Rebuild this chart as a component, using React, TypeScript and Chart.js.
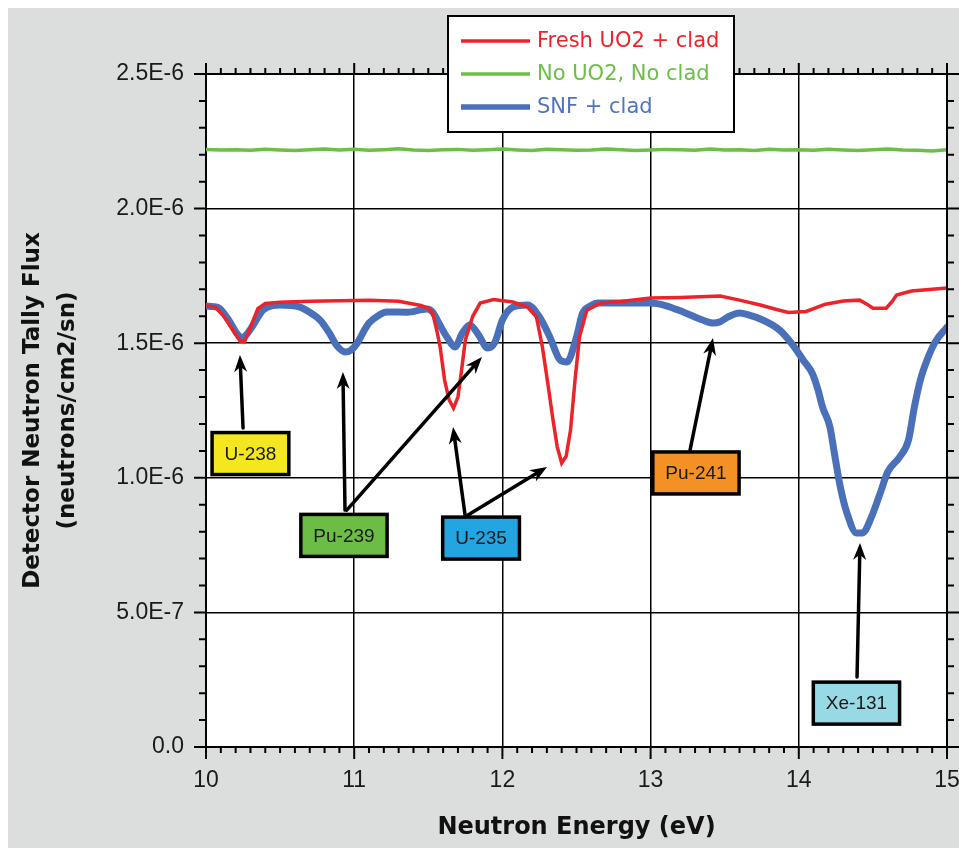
import { useEffect, useRef } from "react";
import { Chart, registerables } from "chart.js";

Chart.register(...registerables);

// Neutron energy (eV) and detector flux (in units of 1E-6 neutrons/cm2/sn)
const freshEnergy = [
  10.0, 10.06, 10.12, 10.18, 10.23, 10.26, 10.3, 10.35, 10.4, 10.5, 10.7, 10.9,
  11.1, 11.3, 11.45, 11.5, 11.53, 11.56, 11.58, 11.61, 11.64, 11.67, 11.7, 11.72,
  11.75, 11.8, 11.85, 11.94, 12.07, 12.17, 12.23, 12.27, 12.31, 12.34, 12.37, 12.4,
  12.43, 12.46, 12.49, 12.52, 12.57, 12.66, 12.8, 13.0, 13.2, 13.47, 13.6, 13.74,
  13.85, 13.93, 14.05, 14.18, 14.3, 14.41, 14.46, 14.5, 14.59, 14.63, 14.66, 14.76,
  14.9, 15.0,
];
const freshFlux = [
  1.638, 1.635, 1.6, 1.55, 1.508, 1.505, 1.56, 1.628, 1.648, 1.652, 1.656, 1.658,
  1.66, 1.656, 1.64, 1.63, 1.612, 1.54, 1.486, 1.363, 1.29, 1.259, 1.3, 1.38,
  1.512, 1.6, 1.649, 1.662, 1.653, 1.634, 1.597, 1.486, 1.337, 1.22, 1.115, 1.055,
  1.08, 1.178, 1.363, 1.523, 1.623, 1.649, 1.655, 1.668, 1.67, 1.675, 1.66, 1.642,
  1.625, 1.614, 1.618, 1.645, 1.657, 1.66, 1.645, 1.63, 1.63, 1.655, 1.679, 1.694,
  1.7, 1.705,
];

const emptyEnergy = [
  10.0, 10.1, 10.2, 10.3, 10.4, 10.5, 10.6, 10.7, 10.8, 10.9,
  11.0, 11.1, 11.2, 11.3, 11.4, 11.5, 11.6, 11.7, 11.8, 11.9,
  12.0, 12.1, 12.2, 12.3, 12.4, 12.5, 12.6, 12.7, 12.8, 12.9,
  13.0, 13.1, 13.2, 13.3, 13.4, 13.5, 13.6, 13.7, 13.8, 13.9,
  14.0, 14.1, 14.2, 14.3, 14.4, 14.5, 14.6, 14.7, 14.8, 14.9, 15.0,
];
const emptyFlux = [
  2.22, 2.218, 2.219, 2.217, 2.22, 2.218, 2.216, 2.219, 2.221, 2.218,
  2.22, 2.217, 2.219, 2.222, 2.218, 2.216, 2.219, 2.22, 2.217, 2.219,
  2.221, 2.218, 2.216, 2.22, 2.219, 2.217, 2.218, 2.221, 2.219, 2.216,
  2.218, 2.22, 2.219, 2.217, 2.221, 2.218, 2.219, 2.216, 2.22, 2.218,
  2.219, 2.217, 2.22, 2.218, 2.216, 2.219, 2.221, 2.218, 2.217, 2.214, 2.219,
];

const snfEnergy = [
  10.0, 10.05, 10.09, 10.16, 10.21, 10.24, 10.27, 10.31, 10.385, 10.45, 10.5, 10.63,
  10.7, 10.77, 10.83, 10.88, 10.94, 10.98, 11.02, 11.06, 11.1, 11.17, 11.22, 11.36,
  11.49, 11.53, 11.56, 11.63, 11.68, 11.73, 11.78, 11.84, 11.9, 11.95, 12.0, 12.07,
  12.17, 12.25, 12.32, 12.39, 12.435, 12.5, 12.54, 12.6, 12.64, 13.0, 13.1, 13.22,
  13.35, 13.42, 13.47, 13.52, 13.6, 13.66, 13.74, 13.87, 13.96, 14.03, 14.09, 14.13,
  14.16, 14.21, 14.24, 14.28, 14.325, 14.39, 14.43, 14.49, 14.55, 14.6, 14.68, 14.74,
  14.78, 14.82, 14.865, 14.92, 15.0,
];
const snfFlux = [
  1.638, 1.636, 1.63, 1.58, 1.535, 1.52, 1.53, 1.56, 1.623, 1.64, 1.642, 1.635,
  1.615, 1.586, 1.54, 1.493, 1.467, 1.475, 1.5, 1.54, 1.575, 1.605, 1.616, 1.615,
  1.627, 1.615, 1.586, 1.519, 1.486, 1.538, 1.568, 1.53, 1.482, 1.504, 1.586, 1.634,
  1.642, 1.597, 1.523, 1.437, 1.43, 1.523, 1.61, 1.64, 1.649, 1.649, 1.64, 1.616,
  1.586, 1.575, 1.58, 1.597, 1.612, 1.605, 1.59, 1.549, 1.493, 1.437, 1.389, 1.326,
  1.263, 1.189, 1.092, 0.966, 0.869, 0.795, 0.795, 0.854, 0.944, 1.022, 1.077, 1.14,
  1.263, 1.363, 1.437, 1.504, 1.56,
];

const seriesNames = ["Fresh UO2 + clad", "No UO2, No clad", "SNF + clad"];
const seriesColors = ["#ec2329", "#6cbe45", "#4a70b9"];
const legendTextColors = ["#ec2329", "#6cbe45", "#4f74bb"];

const xTickLabels = ["10", "11", "12", "13", "14", "15"];
const yTickLabels = ["0.0", "5.0E-7", "1.0E-6", "1.5E-6", "2.0E-6", "2.5E-6"];

// Isotope call-outs, placed in data coordinates
const isotopeNames = ["U-238", "Pu-239", "U-235", "Pu-241", "Xe-131"];
const isotopeEnergy = [10.3, 10.931, 11.856, 13.306, 14.389];
const isotopeFlux = [1.09, 0.786, 0.776, 1.018, 0.163];
const isotopeFill = ["#f5e71e", "#6cbd45", "#22a5e0", "#f39125", "#98d9e6"];

// Arrows from each call-out to its resonance dip
const arrowFromEnergy = [10.25, 10.938, 10.95, 11.748, 11.768, 13.266, 14.393];
const arrowFromFlux = [1.185, 0.88, 0.88, 0.862, 0.862, 1.103, 0.26];
const arrowToEnergy = [10.229, 10.924, 11.862, 11.667, 12.301, 13.421, 14.413];
const arrowToFlux = [1.456, 1.393, 1.449, 1.189, 1.04, 1.519, 0.758];

const toPoints = (xs: number[], ys: number[]) => xs.map((x, i) => ({ x, y: ys[i] }));

const TICK_FONT = "Liberation Sans, Arial, sans-serif";
const WIDE_FONT = "DejaVu Sans, Verdana, sans-serif";

function drawArrow(ctx: CanvasRenderingContext2D, x0: number, y0: number, x1: number, y1: number) {
  const ang = Math.atan2(y1 - y0, x1 - x0);
  const c = Math.cos(ang);
  const s = Math.sin(ang);
  const len = 17;
  const half = 6.5;
  ctx.beginPath();
  ctx.moveTo(x0, y0);
  ctx.lineTo(x1 - c * len * 0.6, y1 - s * len * 0.6);
  ctx.stroke();
  ctx.beginPath();
  ctx.moveTo(x1, y1);
  ctx.lineTo(x1 - c * len - s * half, y1 - s * len + c * half);
  ctx.lineTo(x1 - c * len * 0.7, y1 - s * len * 0.7);
  ctx.lineTo(x1 - c * len + s * half, y1 - s * len - c * half);
  ctx.closePath();
  ctx.fill();
}

const decorations = {
  id: "decorations",
  beforeDraw(chart: any) {
    const { ctx, chartArea: a } = chart;
    ctx.save();
    ctx.fillStyle = "#dcdddd";
    ctx.fillRect(0, 0, chart.width, chart.height);
    ctx.fillStyle = "#ffffff";
    ctx.fillRect(a.left, a.top, a.right - a.left, a.bottom - a.top);
    ctx.restore();
  },
  afterDatasetsDraw(chart: any) {
    const { ctx, chartArea: a, scales } = chart;
    const xs = scales.x;
    const ys = scales.y;
    ctx.save();

    // top and right frame
    ctx.strokeStyle = "#000";
    ctx.lineWidth = 2;
    ctx.beginPath();
    ctx.moveTo(a.left, a.top);
    ctx.lineTo(a.right, a.top);
    ctx.lineTo(a.right, a.bottom);
    ctx.stroke();

    // major and minor tick marks on all four sides
    ctx.lineWidth = 2;
    ctx.beginPath();
    for (let i = 0; i <= 50; i++) {
      const px = xs.getPixelForValue(10 + i / 10);
      const major = i % 10 === 0;
      ctx.moveTo(px, a.bottom);
      ctx.lineTo(px, a.bottom + (major ? 12 : 6));
      ctx.moveTo(px, a.top);
      ctx.lineTo(px, a.top - (major ? 11 : 6));
    }
    for (let i = 0; i <= 25; i++) {
      const py = ys.getPixelForValue(i / 10);
      const major = i % 5 === 0;
      ctx.moveTo(a.left, py);
      ctx.lineTo(a.left - (major ? 12 : 7), py);
      ctx.moveTo(a.right, py);
      ctx.lineTo(a.right + (major ? 12 : 7), py);
    }
    ctx.stroke();

    // arrows
    ctx.strokeStyle = "#000";
    ctx.fillStyle = "#000";
    ctx.lineWidth = 3.5;
    ctx.lineCap = "round";
    for (let i = 0; i < arrowFromEnergy.length; i++) {
      drawArrow(
        ctx,
        xs.getPixelForValue(arrowFromEnergy[i]),
        ys.getPixelForValue(arrowFromFlux[i]),
        xs.getPixelForValue(arrowToEnergy[i]),
        ys.getPixelForValue(arrowToFlux[i])
      );
    }

    // isotope boxes
    ctx.font = `19px ${TICK_FONT}`;
    ctx.textAlign = "center";
    ctx.textBaseline = "middle";
    ctx.lineCap = "butt";
    for (let i = 0; i < isotopeNames.length; i++) {
      const cx = xs.getPixelForValue(isotopeEnergy[i]);
      const cy = ys.getPixelForValue(isotopeFlux[i]);
      const w = ctx.measureText(isotopeNames[i]).width + 25;
      const h = 42;
      ctx.fillStyle = isotopeFill[i];
      ctx.fillRect(cx - w / 2, cy - h / 2, w, h);
      ctx.lineWidth = 3.5;
      ctx.strokeStyle = "#000";
      ctx.strokeRect(cx - w / 2, cy - h / 2, w, h);
      ctx.fillStyle = "#1a1a1a";
      ctx.fillText(isotopeNames[i], cx, cy + 1);
    }
    ctx.restore();
  },
  afterDraw(chart: any) {
    const { ctx, chartArea: a } = chart;
    // legend box overlapping the top of the plot
    const bx = a.left + 242;
    const by = a.top - 58;
    const bw = 286;
    const bh = 116;
    ctx.save();
    ctx.fillStyle = "#fff";
    ctx.fillRect(bx, by, bw, bh);
    ctx.strokeStyle = "#000";
    ctx.lineWidth = 2;
    ctx.strokeRect(bx, by, bw, bh);
    const widths = [3.5, 3.5, 5.5];
    ctx.font = `21px ${WIDE_FONT}`;
    ctx.textAlign = "left";
    ctx.textBaseline = "middle";
    for (let i = 0; i < seriesNames.length; i++) {
      const ry = by + 25 + i * 33;
      ctx.strokeStyle = seriesColors[i];
      ctx.lineWidth = widths[i];
      ctx.beginPath();
      ctx.moveTo(bx + 13, ry);
      ctx.lineTo(bx + 82, ry);
      ctx.stroke();
      ctx.fillStyle = legendTextColors[i];
      ctx.fillText(seriesNames[i], bx + 89, ry + 1);
    }
    ctx.restore();
  },
};

export default function App() {
  const ref = useRef<HTMLCanvasElement>(null);

  useEffect(() => {
    if (!ref.current) return;
    const chart = new Chart(ref.current, {
      type: "line",
      data: {
        datasets: [
          {
            label: seriesNames[0],
            data: toPoints(freshEnergy, freshFlux),
            borderColor: seriesColors[0],
            borderWidth: 3.5,
            pointRadius: 0,
            tension: 0,
          },
          {
            label: seriesNames[1],
            data: toPoints(emptyEnergy, emptyFlux),
            borderColor: seriesColors[1],
            borderWidth: 3.5,
            pointRadius: 0,
            tension: 0,
          },
          {
            label: seriesNames[2],
            data: toPoints(snfEnergy, snfFlux),
            borderColor: seriesColors[2],
            borderWidth: 7,
            borderJoinStyle: "round",
            borderCapStyle: "round",
            pointRadius: 0,
            cubicInterpolationMode: "monotone",
          },
        ],
      },
      options: {
        responsive: false,
        devicePixelRatio: 1,
        animation: false,
        events: [],
        layout: { padding: { left: 0, top: 66, right: 12, bottom: 0 } },
        plugins: { legend: { display: false }, tooltip: { enabled: false } },
        scales: {
          x: {
            type: "linear",
            min: 10,
            max: 15,
            ticks: {
              stepSize: 1,
              callback: (_v: any, i: number) => xTickLabels[i],
              padding: 20,
              color: "#1a1a1a",
              font: { family: TICK_FONT, size: 23 },
              maxRotation: 0,
            },
            grid: { color: "#000", lineWidth: 1.5, drawTicks: false },
            border: { display: true, color: "#000", width: 2 },
            title: {
              display: true,
              text: "Neutron Energy (eV)",
              color: "#111",
              font: { family: WIDE_FONT, size: 24, weight: "bold", lineHeight: 1.2 },
              padding: { top: 0, bottom: 6 },
            },
            afterFit(scale: any) {
              scale.height = 101;
              scale.paddingLeft = 0;
              scale.paddingRight = 0;
            },
          },
          y: {
            type: "linear",
            min: 0,
            max: 2.5,
            ticks: {
              stepSize: 0.5,
              callback: (_v: any, i: number) => yTickLabels[i],
              padding: 22,
              color: "#1a1a1a",
              font: { family: TICK_FONT, size: 23 },
            },
            grid: { color: "#000", lineWidth: 1.5, drawTicks: false },
            border: { display: true, color: "#000", width: 2 },
            title: {
              display: true,
              text: ["Detector Neutron Tally Flux", "(neutrons/cm2/sn)"],
              color: "#111",
              font: { family: WIDE_FONT, size: 23, weight: "bold", lineHeight: 1.52 },
              padding: { top: 7.5, bottom: 0 },
            },
            afterFit(scale: any) {
              scale.width = 198;
              scale.paddingTop = 0;
              scale.paddingBottom = 0;
            },
          },
        },
      },
      plugins: [decorations],
    } as any);
    return () => chart.destroy();
  }, []);

  return (
    <div
      style={{
        position: "fixed",
        left: 8,
        top: 8,
        width: 951,
        height: 840,
        background: "#dcdddd",
      }}
    >
      <canvas ref={ref} width={951} height={840} style={{ display: "block", width: 951, height: 840 }} />
    </div>
  );
}
